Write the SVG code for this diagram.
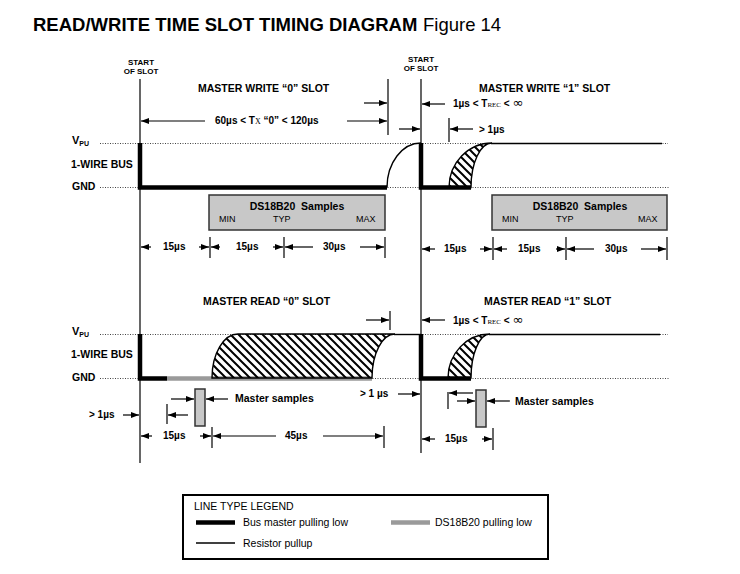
<svg xmlns="http://www.w3.org/2000/svg" width="740" height="574" viewBox="0 0 740 574">
<defs>
<marker id="ah" markerUnits="userSpaceOnUse" markerWidth="8" markerHeight="6" refX="8" refY="3" orient="auto">
<path d="M0,0 L8,3 L0,6 z" fill="#000"/>
</marker>
<pattern id="hatch" patternUnits="userSpaceOnUse" width="8" height="8">
<path d="M-2,-2 L10,10 M-2,6 L2,10 M6,-2 L10,2" stroke="#000" stroke-width="2"/>
</pattern>
<style>
text{font-family:"Liberation Sans",Arial,sans-serif;fill:#000}
.b{font-weight:bold}
.lab{font-size:10.5px;font-weight:bold}
.dim{font-size:10px;font-weight:bold}
.small{font-size:8px;font-weight:bold}
.ser{font-family:"Liberation Serif","Times New Roman",serif;font-weight:normal}
.inf{font-family:"DejaVu Sans",sans-serif;font-weight:normal;font-size:13px}
.mm{font-size:9px}
.slot{stroke:#000;stroke-width:1.2;fill:none}
.dot{stroke:#444;stroke-width:1;stroke-dasharray:1,1.5;fill:none}
.thick{stroke:#000;stroke-width:4.5;fill:none}
.gray{stroke:#9a9a9a;stroke-width:4.5;fill:none}
.thin{stroke:#000;stroke-width:1.4;fill:none}
.hat{fill:url(#hatch);stroke:#000;stroke-width:1.4}
.box{fill:#c8c8c8;stroke:#333;stroke-width:1.5}
.arr{stroke:#000;stroke-width:1.2;fill:none;marker-end:url(#ah)}
.tick{stroke:#000;stroke-width:1.2}
</style>
</defs>
<rect x="0" y="0" width="740" height="574" fill="#fff"/>

<g id="title">
<text x="33" y="31" class="b" style="font-size:18.5px">READ/WRITE TIME SLOT TIMING DIAGRAM</text>
<text x="423" y="31" style="font-size:18.5px">Figure 14</text>
</g>

<g id="slot-markers">
<text x="141" y="65" class="small" text-anchor="middle">START</text>
<text x="141" y="74" class="small" text-anchor="middle">OF SLOT</text>
<text x="421" y="62" class="small" text-anchor="middle">START</text>
<text x="421" y="71" class="small" text-anchor="middle">OF SLOT</text>
<line class="slot" x1="140" y1="79" x2="140" y2="463"/>
<line class="slot" x1="421" y1="79" x2="421" y2="453"/>
</g>

<g id="axis-labels">
<text x="72" y="144" class="b" style="font-size:11px">V<tspan style="font-size:7px" dy="2">PU</tspan></text>
<text x="71" y="168" class="lab">1-WIRE BUS</text>
<text x="72" y="190" class="lab">GND</text>
<text x="72" y="335" class="b" style="font-size:11px">V<tspan style="font-size:7px" dy="2">PU</tspan></text>
<text x="71" y="358" class="lab">1-WIRE BUS</text>
<text x="72" y="381" class="lab">GND</text>
<line class="dot" x1="100" y1="143.5" x2="668" y2="143.5"/>
<line class="dot" x1="100" y1="187.5" x2="670" y2="187.5"/>
<line class="dot" x1="100" y1="334.5" x2="668" y2="334.5"/>
<line class="dot" x1="100" y1="378.5" x2="670" y2="378.5"/>
</g>

<g id="write-waveform">
<path class="thick" d="M140,143 L140,187.5 L387,187.5"/>
<path class="thin" d="M387,187.5 A34,44.5 0 0 1 421,143"/>
<path class="thick" d="M421,143 L421,187.5 L471,187.5"/>
<path class="hat" d="M449,187.5 A43,44.5 0 0 1 492,143 A21,44.5 0 0 0 471,187.5 Z"/>
<line class="thin" x1="491" y1="143.5" x2="662" y2="143.5"/>
</g>

<g id="write-labels">
<text x="198" y="92" class="lab">MASTER WRITE “0” SLOT</text>
<text x="479" y="92" class="lab">MASTER WRITE “1” SLOT</text>
<text x="215" y="124" class="dim">60µs &lt; T<tspan class="ser" style="font-size:8px">X</tspan> “0” &lt; 120µs</text>
<text x="453" y="107" class="dim">1µs &lt; T<tspan class="ser" style="font-size:7px">REC</tspan> &lt; <tspan class="inf">∞</tspan></text>
<text x="479" y="133" class="dim">&gt; 1µs</text>
</g>

<g id="sample-box-0">
<rect class="box" x="209" y="195" width="176" height="35"/>
<text x="297" y="210" class="lab" text-anchor="middle">DS18B20&#160; Samples</text>
<text x="219" y="222" class="mm">MIN</text>
<text x="273" y="222" class="mm">TYP</text>
<text x="356" y="222" class="mm">MAX</text>
<text x="163" y="250" class="dim">15µs</text>
<text x="236" y="250" class="dim">15µs</text>
<text x="323" y="250" class="dim">30µs</text>
</g>

<g id="sample-box-1">
<rect class="box" x="492" y="195" width="175" height="35"/>
<text x="580" y="210" class="lab" text-anchor="middle">DS18B20&#160; Samples</text>
<text x="502" y="222" class="mm">MIN</text>
<text x="556" y="222" class="mm">TYP</text>
<text x="638" y="222" class="mm">MAX</text>
<text x="444" y="252" class="dim">15µs</text>
<text x="518" y="252" class="dim">15µs</text>
<text x="605" y="252" class="dim">30µs</text>
</g>

<g id="read-waveform">
<path class="thick" d="M140,334 L140,378.5 L167,378.5"/>
<line class="gray" x1="167" y1="378.5" x2="372" y2="378.5"/>
<path class="hat" d="M212,378 A26,44 0 0 1 238,334 L395,334 A23,44 0 0 0 372,378 Z"/>
<line class="thin" x1="394" y1="334.5" x2="421" y2="334.5"/>
<path class="thick" d="M421,334 L421,378.5 L471,378.5"/>
<path class="hat" d="M448,378 A42,44 0 0 1 490,334 A19,44 0 0 0 471,378 Z"/>
<line class="thin" x1="489" y1="334.5" x2="660" y2="334.5"/>
</g>

<g id="read-labels">
<text x="203" y="305" class="lab">MASTER READ “0” SLOT</text>
<text x="484" y="305" class="lab">MASTER READ “1” SLOT</text>
<text x="453" y="324" class="dim">1µs &lt; T<tspan class="ser" style="font-size:7px">REC</tspan> &lt; <tspan class="inf">∞</tspan></text>
<text x="360" y="397" class="dim">&gt; 1 µs</text>
<text x="89" y="418" class="dim">&gt; 1µs</text>
<text x="163" y="439" class="dim">15µs</text>
<text x="285" y="439" class="dim">45µs</text>
<text x="445" y="442" class="dim">15µs</text>
</g>

<g id="master-sample-0">
<rect class="box" x="195" y="389" width="10" height="37"/>
<text x="235" y="402" class="lab">Master samples</text>
</g>

<g id="master-sample-1">
<rect class="box" x="476" y="390" width="10" height="37"/>
<text x="515" y="405" class="lab">Master samples</text>
</g>

<g id="connectors">
<line class="tick" x1="388" y1="79" x2="388" y2="135"/>
<line class="arr" x1="364" y1="103" x2="387" y2="103"/>
<line class="arr" x1="205" y1="121" x2="141" y2="121"/>
<line class="arr" x1="347" y1="121" x2="387" y2="121"/>
<line class="arr" x1="445" y1="104" x2="422" y2="104"/>
<line class="arr" x1="399" y1="129" x2="420" y2="129"/>
<line class="tick" x1="449" y1="118" x2="449" y2="142"/>
<line class="arr" x1="473" y1="129" x2="450" y2="129"/>

<line class="arr" x1="151" y1="247" x2="141" y2="247"/>
<line class="arr" x1="199" y1="247" x2="209" y2="247"/>
<line class="tick" x1="210" y1="237" x2="210" y2="258"/>
<line class="arr" x1="220" y1="247" x2="211" y2="247"/>
<line class="arr" x1="273" y1="247" x2="283" y2="247"/>
<line class="tick" x1="284" y1="237" x2="284" y2="258"/>
<line class="arr" x1="313" y1="247" x2="285" y2="247"/>
<line class="arr" x1="360" y1="247" x2="384" y2="247"/>
<line class="tick" x1="385" y1="237" x2="385" y2="258"/>

<line class="arr" x1="435" y1="249" x2="422" y2="249"/>
<line class="arr" x1="480" y1="249" x2="492" y2="249"/>
<line class="tick" x1="493" y1="237" x2="493" y2="260"/>
<line class="arr" x1="507" y1="249" x2="494" y2="249"/>
<line class="arr" x1="556" y1="249" x2="565" y2="249"/>
<line class="tick" x1="566" y1="237" x2="566" y2="260"/>
<line class="arr" x1="594" y1="249" x2="567" y2="249"/>
<line class="arr" x1="641" y1="249" x2="666" y2="249"/>
<line class="tick" x1="667" y1="237" x2="667" y2="260"/>

<line class="arr" x1="366" y1="320" x2="389" y2="320"/>
<line class="tick" x1="390" y1="311" x2="390" y2="330"/>
<line class="arr" x1="445" y1="320" x2="422" y2="320"/>

<line class="arr" x1="171" y1="399" x2="194" y2="399"/>
<line class="arr" x1="228" y1="399" x2="206" y2="399"/>
<line class="tick" x1="167" y1="404" x2="167" y2="424"/>
<line class="arr" x1="188" y1="415" x2="168" y2="415"/>
<line class="arr" x1="123" y1="415" x2="139" y2="415"/>
<line class="arr" x1="398" y1="394" x2="420" y2="394"/>

<line class="arr" x1="152" y1="436" x2="141" y2="436"/>
<line class="arr" x1="200" y1="436" x2="211" y2="436"/>
<line class="tick" x1="212" y1="427" x2="212" y2="448"/>
<line class="arr" x1="276" y1="436" x2="213" y2="436"/>
<line class="arr" x1="323" y1="436" x2="383" y2="436"/>
<line class="tick" x1="384" y1="426" x2="384" y2="448"/>

<line class="tick" x1="448" y1="392" x2="448" y2="409"/>
<line class="arr" x1="473" y1="393" x2="449" y2="393"/>
<line class="arr" x1="457" y1="401" x2="475" y2="401"/>
<line class="arr" x1="510" y1="401" x2="487" y2="401"/>

<line class="arr" x1="435" y1="439" x2="422" y2="439"/>
<line class="arr" x1="482" y1="439" x2="492" y2="439"/>
<line class="tick" x1="493" y1="428" x2="493" y2="450"/>
</g>

<g id="legend">
<rect x="183" y="495" width="365" height="64" fill="#fff" stroke="#000" stroke-width="2"/>
<text x="194" y="510" style="font-size:10.5px">LINE TYPE LEGEND</text>
<line x1="196" y1="522.5" x2="235" y2="522.5" stroke="#000" stroke-width="4.5"/>
<text x="243" y="526" style="font-size:10.5px">Bus master pulling low</text>
<line x1="391" y1="522.5" x2="430" y2="522.5" stroke="#9a9a9a" stroke-width="4.5"/>
<text x="435" y="526" style="font-size:10.5px">DS18B20 pulling low</text>
<line x1="196" y1="543" x2="235" y2="543" stroke="#000" stroke-width="1.3"/>
<text x="243" y="547" style="font-size:10.5px">Resistor pullup</text>
</g>
</svg>
